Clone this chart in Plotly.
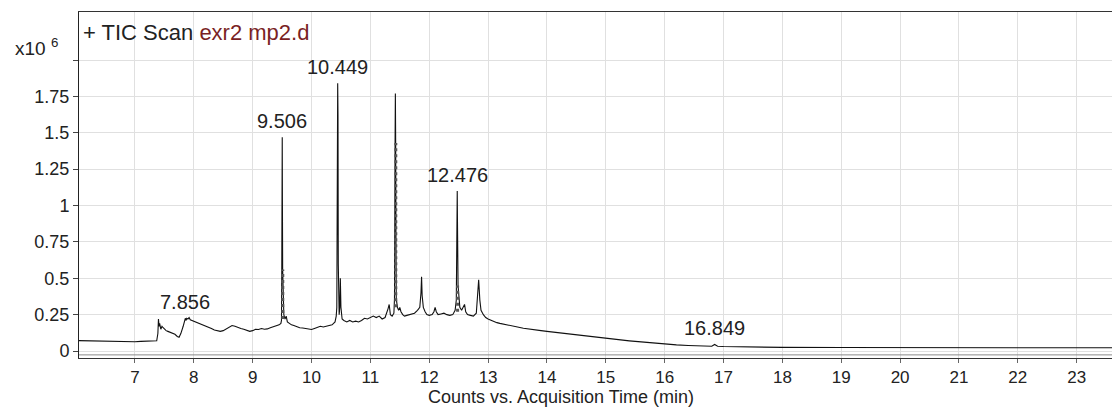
import plotly.graph_objects as go

# Retention time (min) and TIC counts (x10^6)
time_min = [
    6.00, 6.10, 6.20, 6.30, 6.40, 6.50, 6.60, 6.70, 6.80, 6.90, 7.00, 7.10, 7.20, 7.30, 7.37,
    7.39, 7.40, 7.41, 7.42, 7.44, 7.46, 7.48, 7.50, 7.53, 7.56, 7.60, 7.64, 7.68, 7.72, 7.75,
    7.78, 7.80, 7.82, 7.84, 7.856, 7.87, 7.88, 7.90, 7.92, 7.94, 7.97, 8.00, 8.05, 8.10, 8.15,
    8.20, 8.25, 8.30, 8.35, 8.40, 8.45, 8.50, 8.55, 8.60, 8.65, 8.70, 8.75, 8.80, 8.85, 8.90,
    8.95, 9.00, 9.05, 9.10, 9.15, 9.20, 9.25, 9.30, 9.35, 9.40, 9.45, 9.48,
    9.49, 9.495, 9.50, 9.503, 9.506, 9.51, 9.515, 9.52, 9.53, 9.55, 9.57, 9.59, 9.62, 9.66,
    9.70, 9.75, 9.80, 9.85, 9.90, 9.95, 10.00, 10.05, 10.10, 10.15, 10.20, 10.25, 10.30, 10.35,
    10.40, 10.42,
    10.43, 10.44, 10.445, 10.45, 10.455, 10.46, 10.47, 10.48, 10.49, 10.50, 10.52, 10.55, 10.60,
    10.65, 10.70, 10.75, 10.80, 10.85, 10.90, 10.95, 11.00, 11.05, 11.10, 11.15, 11.20, 11.25,
    11.30, 11.32, 11.34, 11.37, 11.40,
    11.41, 11.42, 11.425, 11.43, 11.435, 11.44, 11.46, 11.48, 11.50, 11.52, 11.55, 11.58, 11.62,
    11.66, 11.70, 11.75, 11.80, 11.84, 11.86, 11.87, 11.88, 11.90, 11.93, 11.96, 12.00, 12.05,
    12.08, 12.10, 12.12, 12.15, 12.20, 12.25, 12.30, 12.35, 12.40, 12.44,
    12.46, 12.47, 12.476, 12.48, 12.49, 12.50, 12.52, 12.55, 12.58, 12.60, 12.62, 12.65, 12.70,
    12.75, 12.80, 12.82, 12.84, 12.86, 12.88, 12.92, 12.96, 13.00, 13.05, 13.10, 13.15, 13.20,
    13.30, 13.40, 13.50, 13.60, 13.70, 13.80, 13.90, 14.00, 14.10, 14.20, 14.30, 14.40, 14.50,
    14.60, 14.70, 14.80, 14.90, 15.00, 15.10, 15.20, 15.30, 15.40, 15.50, 15.60, 15.70, 15.80,
    15.90, 16.00, 16.20, 16.40, 16.60, 16.80, 16.849, 16.90, 17.00, 17.20, 17.50, 18.00, 19.00,
    20.00, 21.00, 22.00, 23.00, 23.70,
]
counts_e6 = [
    0.072, 0.071, 0.073, 0.070, 0.068, 0.069, 0.066, 0.067, 0.065, 0.066, 0.064, 0.066, 0.068, 0.069, 0.070,
    0.120, 0.220, 0.170, 0.190, 0.150, 0.170, 0.160, 0.150, 0.140, 0.135, 0.130, 0.120, 0.115, 0.100, 0.095,
    0.120, 0.140, 0.170, 0.200, 0.225, 0.210, 0.225, 0.220, 0.230, 0.215, 0.210, 0.205, 0.200, 0.190, 0.185,
    0.175, 0.165, 0.155, 0.145, 0.140, 0.135, 0.140, 0.150, 0.165, 0.175, 0.170, 0.160, 0.155, 0.150, 0.140,
    0.135, 0.140, 0.150, 0.148, 0.155, 0.150, 0.152, 0.160, 0.165, 0.175, 0.180, 0.190,
    0.210, 0.550, 0.990, 1.470, 1.000, 0.560, 0.350, 0.300, 0.250, 0.220, 0.240, 0.200, 0.190, 0.180,
    0.175, 0.165, 0.160, 0.158, 0.155, 0.150, 0.148, 0.155, 0.160, 0.170, 0.165, 0.170, 0.175, 0.180,
    0.200, 0.240,
    0.300, 1.620, 1.840, 1.620, 0.600, 0.350, 0.250, 0.300, 0.500, 0.300, 0.220, 0.210, 0.200,
    0.210, 0.200, 0.205, 0.200, 0.210, 0.225, 0.220, 0.230, 0.240, 0.230, 0.240, 0.220, 0.230,
    0.290, 0.320, 0.250, 0.240, 0.260,
    0.360, 1.430, 1.770, 1.430, 0.800, 0.360, 0.300, 0.280, 0.300, 0.270, 0.250, 0.240, 0.245,
    0.250, 0.255, 0.260, 0.280, 0.300, 0.400, 0.510, 0.380, 0.300, 0.270, 0.250, 0.245, 0.250,
    0.270, 0.300, 0.270, 0.250, 0.255, 0.260, 0.250, 0.245, 0.250, 0.280,
    0.350, 0.890, 1.100, 0.890, 0.450, 0.380, 0.300, 0.280, 0.300, 0.320, 0.270, 0.250, 0.245,
    0.240, 0.260, 0.380, 0.490, 0.350, 0.280, 0.250, 0.230, 0.220, 0.210, 0.205, 0.195, 0.190,
    0.180, 0.172, 0.165, 0.157, 0.150, 0.145, 0.140, 0.135, 0.130, 0.125, 0.120, 0.115, 0.110,
    0.106, 0.102, 0.098, 0.094, 0.090, 0.085, 0.080, 0.075, 0.070, 0.066, 0.062, 0.058, 0.054,
    0.050, 0.047, 0.042, 0.038, 0.035, 0.033, 0.045, 0.033, 0.031, 0.029, 0.026, 0.025, 0.024,
    0.023, 0.023, 0.022, 0.022, 0.022,
]

# integrated (shaded) peak regions: time, lower and upper counts (x10^6)
integ_time = [9.512, 11.432, 12.482]
integ_low = [0.22, 0.30, 0.27]
integ_high = [0.56, 1.43, 0.45]

peak_labels = ["7.856", "9.506", "10.449", "12.476", "16.849"]
x_ticks = list(range(7, 24))
y_ticks = [0, 0.25, 0.5, 0.75, 1, 1.25, 1.5, 1.75, 2.0]
y_tick_text = ["0", "0.25", "0.5", "0.75", "1", "1.25", "1.5", "1.75", ""]

FONT = "Liberation Sans, Arial, sans-serif"
TXT = "#222222"

fig = go.Figure()
fig.add_trace(go.Scatter(
    x=time_min, y=counts_e6, mode="lines",
    line=dict(color="#111111", width=1.1), showlegend=False, hoverinfo="skip",
))

ix, iy = [], []
for t, lo, hi in zip(integ_time, integ_low, integ_high):
    ix += [t, t, None]
    iy += [lo, hi, None]
fig.add_trace(go.Scatter(
    x=ix, y=iy, mode="lines", line=dict(color="#555555", width=3, dash="dot"),
    showlegend=False, hoverinfo="skip",
))

# peak labels placed above the local maximum near each labelled time
for lab in peak_labels:
    t = float(lab)
    ymax = max(c for tt, c in zip(time_min, counts_e6) if abs(tt - t) <= 0.06)
    fig.add_annotation(x=t, y=ymax, text=lab, showarrow=False, xanchor="center",
                       yanchor="bottom", yshift=3,
                       font=dict(family=FONT, size=20, color=TXT))

fig.add_annotation(xref="paper", yref="paper", x=0.002, y=0.94, xanchor="left", yanchor="middle",
                   text="+ TIC Scan <span style='color:#7a1f24'>exr2 mp2.d</span>",
                   showarrow=False, font=dict(family=FONT, size=22, color=TXT))
fig.add_annotation(xref="paper", yref="paper", x=-0.064, y=0.90, xanchor="left", yanchor="middle",
                   text="x10 <sup>6</sup>", showarrow=False,
                   font=dict(family=FONT, size=19, color=TXT))
fig.add_annotation(xref="paper", yref="paper", x=0.467, y=-0.114, xanchor="center", yanchor="middle",
                   text="Counts vs. Acquisition Time (min)", showarrow=False, borderpad=0,
                   font=dict(family=FONT, size=18, color=TXT))

# second line of the doubled bottom frame
fig.add_shape(type="line", xref="paper", yref="paper", x0=0, x1=1, y0=0.009, y1=0.009,
              line=dict(color="#8a8a8a", width=1))

fig.update_layout(
    width=1112, height=412,
    margin=dict(l=79, r=0, t=12, b=54),
    paper_bgcolor="white", plot_bgcolor="white",
    font=dict(family=FONT, size=17, color=TXT),
    xaxis=dict(range=[6.05, 23.6], tickvals=x_ticks, ticks="outside", ticklen=4,
               tickcolor="#666666", showgrid=True, gridcolor="#e0e0e0", gridwidth=1,
               showline=True, linecolor="#333333", linewidth=1, mirror=True,
               zeroline=False, tickfont=dict(family=FONT, size=17, color=TXT)),
    yaxis=dict(range=[-0.048, 2.33], tickvals=y_ticks, ticktext=y_tick_text,
               ticks="outside", ticklen=5, tickcolor="#444444",
               showgrid=True, gridcolor="#e0e0e0", gridwidth=1,
               showline=True, linecolor="#222222", linewidth=1,
               zeroline=False, tickfont=dict(family=FONT, size=18, color=TXT)),
)

fig.write_html(
    "out.html",
    config={"displayModeBar": False},
    post_script="document.body.style.margin='0';document.body.style.overflow='hidden';",
)
